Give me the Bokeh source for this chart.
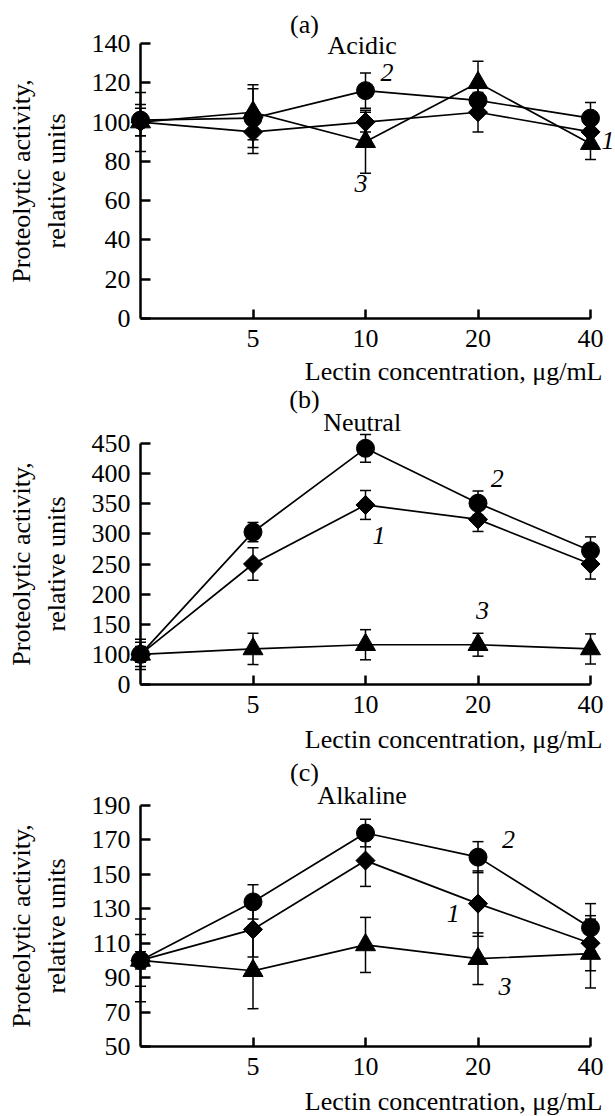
import math
from bokeh.plotting import figure
from bokeh.models import Range1d, FixedTicker, Label, Whisker, ColumnDataSource, TeeHead
from bokeh.layouts import column
from bokeh.embed import file_html
from bokeh.resources import INLINE

FONT = "Liberation Serif"
FS = "26px"
W = 615

# ---------------- data ----------------
conc_index = [0, 1, 2, 3, 4]
conc_ticks = [1, 2, 3, 4]
conc_tick_labels = ["5", "10", "20", "40"]
x_title = "Lectin concentration, \u03bcg/mL"
y_title = "Proteolytic activity,\nrelative units"

acidic_1 = [100, 95, 100, 105, 95]
acidic_1_err = [7, 11, 5, 10, 6]
acidic_2 = [101, 102, 116, 111, 102]
acidic_2_err = [8, 15, 9, 8, 8]
acidic_3 = [100, 105, 90, 120, 89]
acidic_3_err = [15, 14, 16, 11, 8]

neutral_1 = [100, 250, 348, 324, 250]
neutral_1_err = [20, 27, 24, 20, 25]
neutral_2 = [100, 303, 442, 351, 272]
neutral_2_err = [13, 16, 23, 20, 23]
neutral_3 = [100, 109, 116, 116, 109]
neutral_3_err = [25, 26, 25, 19, 25]

alkaline_1 = [100, 118, 158, 133, 110]
alkaline_1_err = [15, 16, 15, 19, 16]
alkaline_2 = [100, 134, 174, 160, 119]
alkaline_2_err = [5, 10, 8, 9, 14]
alkaline_3 = [100, 94, 109, 101, 104]
alkaline_3_err = [24, 22, 16, 15, 20]

acidic_ticks = [0, 20, 40, 60, 80, 100, 120, 140]
neutral_ticks = [50, 100, 150, 200, 250, 300, 350, 400, 450]
neutral_tick_text = {50: "0"}
alkaline_ticks = [50, 70, 90, 110, 130, 150, 170, 190]

series_names = ["1", "2", "3"]

# ---------------- layout (pixels) ----------------
X0_PX, X4_PX = 140, 590   # pixel of first / last concentration position


def make_panel(letter, name, ys, errs, ticks, overrides, top, height, px_hi, px_lo,
               letter_dy, name_dy, title_dy, number_pos):
    ymin, ymax = ticks[0], ticks[-1]
    xs = (X4_PX - X0_PX) / 4.0
    x_start = -X0_PX / xs
    x_end = (W - X0_PX) / xs
    ys_ = (px_lo - px_hi) / (ymax - ymin)
    y_end = ymax + (px_hi - top) / ys_
    y_start = ymin - (top + height - px_lo) / ys_

    p = figure(width=W, height=height, x_range=Range1d(x_start, x_end),
               y_range=Range1d(y_start, y_end), output_backend="svg",
               toolbar_location=None, min_border=0)
    p.outline_line_color = None
    p.grid.visible = False
    p.background_fill_color = "white"
    p.border_fill_color = "white"

    # x axis at y = ymin
    xa = p.xaxis[0]
    xa.fixed_location = ymin
    xa.bounds = (0, 4)
    xa.ticker = FixedTicker(ticks=conc_ticks)
    xa.major_label_overrides = {t: l for t, l in zip(conc_ticks, conc_tick_labels)}
    xa.minor_tick_line_color = None
    xa.major_tick_in = 9
    xa.major_tick_out = 0
    xa.axis_line_width = 2.5
    xa.major_tick_line_width = 2.5
    xa.major_label_standoff = 11
    xa.major_label_text_font = FONT
    xa.major_label_text_font_size = FS
    xa.major_label_text_color = "black"

    # y axis at x = 0
    ya = p.yaxis[0]
    ya.fixed_location = 0
    ya.bounds = (ymin, ymax)
    ya.ticker = FixedTicker(ticks=ticks)
    ya.major_label_overrides = {t: str(t) for t in ticks} | overrides
    ya.minor_tick_line_color = None
    ya.major_tick_in = 10
    ya.major_tick_out = 0
    ya.axis_line_width = 2.5
    ya.major_tick_line_width = 2.5
    ya.major_label_standoff = 10
    ya.major_label_text_font = FONT
    ya.major_label_text_font_size = FS
    ya.major_label_text_color = "black"
    ya.axis_label = y_title
    ya.axis_label_text_font = FONT
    ya.axis_label_text_font_size = FS
    ya.axis_label_text_font_style = "normal"
    ya.axis_label_text_color = "black"
    ya.axis_label_standoff = 18

    markers = [("square", 13.5, math.pi / 4), ("circle", 18, 0), ("triangle", 20, 0)]
    for (mk, sz, ang), y, e in zip(markers, ys, errs):
        src = ColumnDataSource(dict(x=conc_index, y=y,
                                    lo=[a - b for a, b in zip(y, e)],
                                    hi=[a + b for a, b in zip(y, e)]))
        w = Whisker(base="x", upper="hi", lower="lo", source=src, dimension="height",
                    line_color="black", line_width=1.5,
                    upper_head=TeeHead(size=11, line_width=1.5, line_color="black"),
                    lower_head=TeeHead(size=11, line_width=1.5, line_color="black"))
        p.add_layout(w)
        p.line("x", "y", source=src, line_color="black", line_width=1.7)
        p.scatter("x", "y", source=src, marker=mk, size=sz, angle=ang,
                  fill_color="black", line_color="black")

    # texts
    p.add_layout(Label(x=1.458, y=ymax, y_offset=letter_dy, text=f"({letter})",
                       text_align="center", text_baseline="middle",
                       text_font=FONT, text_font_size=FS, text_color="black"))
    p.add_layout(Label(x=1.97, y=ymax, y_offset=name_dy, text=name,
                       text_align="center", text_baseline="middle",
                       text_font=FONT, text_font_size=FS, text_color="black"))
    p.add_layout(Label(x=4, y=ymin, x_offset=12, y_offset=title_dy, text=x_title,
                       text_align="right", text_baseline="middle",
                       text_font=FONT, text_font_size=FS, text_color="black"))
    for nm, (nx, ny) in zip(series_names, number_pos):
        p.add_layout(Label(x=nx, y=ny, text=nm, text_align="center",
                           text_baseline="middle", text_font=FONT,
                           text_font_size=FS, text_font_style="italic",
                           text_color="black"))
    return p


pa = make_panel("a", "Acidic", [acidic_1, acidic_2, acidic_3],
                [acidic_1_err, acidic_2_err, acidic_3_err],
                acidic_ticks, {}, 0, 386, 43, 318, 19, -2, -53,
                [(4.155, 90.6), (2.19, 125), (1.96, 68.7)])
pb = make_panel("b", "Neutral", [neutral_1, neutral_2, neutral_3],
                [neutral_1_err, neutral_2_err, neutral_3_err],
                neutral_ticks, neutral_tick_text, 386, 371, 443, 684, 44, 21, -55,
                [(2.12, 297), (3.17, 392), (3.04, 172)])
pc = make_panel("c", "Alkaline", [alkaline_1, alkaline_2, alkaline_3],
                [alkaline_1_err, alkaline_2_err, alkaline_3_err],
                alkaline_ticks, {}, 757, 359, 805, 1046, 33, 10, -55,
                [(2.78, 127), (3.27, 170), (3.24, 85)])

layout = column(pa, pb, pc, spacing=0)
open("out.html", "w").write(file_html(layout, INLINE))
